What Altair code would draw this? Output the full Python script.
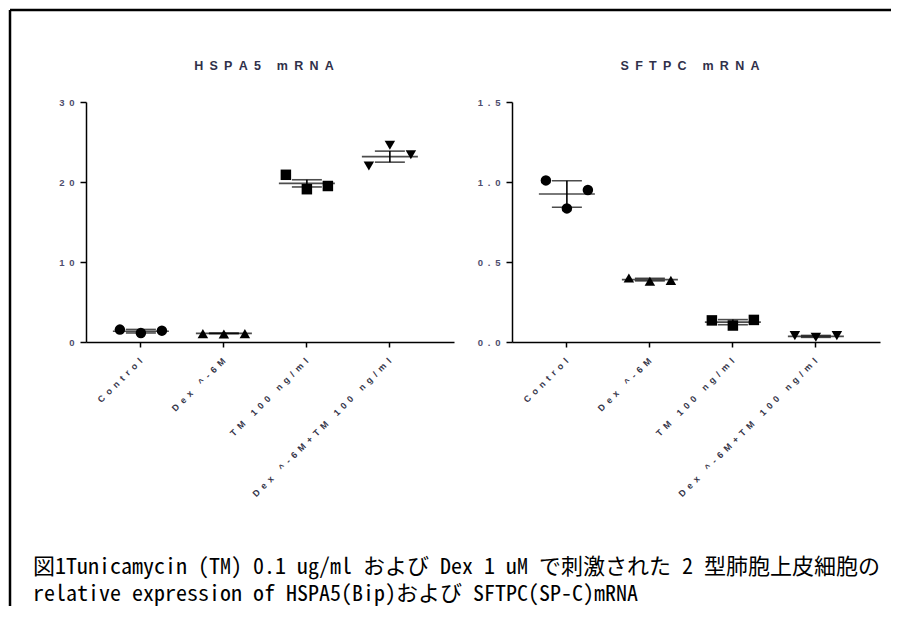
import altair as alt
import pandas as pd

CATEGORIES = ["Control", "Dex ^-6M", "TM 100 ng/ml", "Dex ^-6M+TM 100 ng/ml"]
SHAPES = ["circle", "triangle-up", "square", "triangle-down"]

HSPA5_REPS = [[1.55, 1.13, 1.42], [1.05, 1.0, 1.05], [20.9, 19.1, 19.5], [22.0, 24.6, 23.4]]
HSPA5_MEAN = [1.35, 1.08, 19.83, 23.17]
HSPA5_ERR = [0.22, 0.04, 0.45, 0.69]
HSPA5_TICKS = [0, 10, 20, 30]

SFTPC_REPS = [[1.01, 0.835, 0.95], [0.40, 0.38, 0.385], [0.135, 0.103, 0.138], [0.04, 0.03, 0.04]]
SFTPC_MEAN = [0.925, 0.39, 0.124, 0.035]
SFTPC_ERR = [0.083, 0.008, 0.016, 0.006]
SFTPC_TICKS = [0, 0.5, 1.0, 1.5]

TITLES = ["HSPA5 mRNA", "SFTPC mRNA"]
CAPTION_LINES = [
    "図1Tunicamycin (TM) 0.1 ug/ml および Dex 1 uM で刺激された 2 型肺胞上皮細胞の",
    "relative expression of HSPA5(Bip)および SFTPC(SP-C)mRNA",
]

EN = "\u2002"
SPACED = "join(split(datum.label, ''), '\u2002')"
LABEL_FONT = "Liberation Sans"
W, H = 368, 240


def spaced(s):
    return EN.join(list(s))


one = pd.DataFrame({"k": [0]})


def panel(title, reps, mean, err, ymax, ticks, fmt):
    rows = []
    for c, vals in zip(CATEGORIES, reps):
        for i, v in enumerate(vals):
            rows.append({"cat": c, "rep": i, "val": v})
    pts = pd.DataFrame(rows)
    summ = pd.DataFrame({
        "cat": CATEGORIES,
        "mean": mean,
        "lo": [m - e for m, e in zip(mean, err)],
        "hi": [m + e for m, e in zip(mean, err)],
    })
    xscale = alt.Scale(type="band", domain=CATEGORIES, paddingInner=0.494,
                       paddingOuter=0.464, align=0.44)
    xaxis = alt.Axis(title=None, labelAngle=-45, labelAlign="right", labelBaseline="middle",
                     labelPadding=12, tickSize=5, tickWidth=1.5, domainWidth=1.5,
                     domainColor="black", tickColor="black", labelExpr=SPACED,
                     labelFont=LABEL_FONT, labelFontSize=9, labelFontWeight="bold",
                     labelColor="#35354a", labelLimit=400)
    yscale = alt.Scale(domain=[0, ymax], nice=False)
    yaxis = alt.Axis(title=None, values=ticks, format=fmt, labelExpr=SPACED, grid=False,
                     tickSize=6, tickWidth=1.5, domainWidth=1.5, domainColor="black",
                     tickColor="black", labelFont=LABEL_FONT, labelFontSize=9.5,
                     labelFontWeight="bold", labelColor="#4d4d6e", labelPadding=6)
    x = alt.X("cat:N", sort=CATEGORIES, scale=xscale, axis=xaxis)

    points = alt.Chart(pts).mark_point(filled=True, size=110, color="black", opacity=1).encode(
        x=x,
        xOffset=alt.XOffset("rep:N", scale=alt.Scale(paddingInner=0, paddingOuter=0)),
        y=alt.Y("val:Q", scale=yscale, axis=yaxis),
        shape=alt.Shape("cat:N", scale=alt.Scale(domain=CATEGORIES, range=SHAPES), legend=None),
    )
    mean_line = alt.Chart(summ).mark_tick(size=56, thickness=1.6, color="black").encode(
        x=x, y=alt.Y("mean:Q", scale=yscale))
    cap_lo = alt.Chart(summ).mark_tick(size=30, thickness=1.6, color="black").encode(
        x=x, y=alt.Y("lo:Q", scale=yscale))
    cap_hi = alt.Chart(summ).mark_tick(size=30, thickness=1.6, color="black").encode(
        x=x, y=alt.Y("hi:Q", scale=yscale))
    vline = alt.Chart(summ).mark_rule(strokeWidth=1.6, color="black").encode(
        x=x, y=alt.Y("lo:Q", scale=yscale), y2="hi:Q")
    ttl = alt.Chart(one).mark_text(
        align="center", baseline="middle", fontSize=12.5, fontWeight="bold",
        font=LABEL_FONT, color="#30304a").encode(
        x=alt.value(W / 2 - 6), y=alt.value(-36), text=alt.value(spaced(title)))

    return [points, vline, mean_line, cap_lo, cap_hi, ttl]


left_layers = panel(TITLES[0], HSPA5_REPS, HSPA5_MEAN, HSPA5_ERR, 30, HSPA5_TICKS, "d")
right_layers = panel(TITLES[1], SFTPC_REPS, SFTPC_MEAN, SFTPC_ERR, 1.5, SFTPC_TICKS, ".1f")

frame_top = alt.Chart(one).mark_rule(color="black", strokeWidth=2.5).encode(
    x=alt.value(-76), x2=alt.value(805), y=alt.value(-92))
frame_left = alt.Chart(one).mark_rule(color="black", strokeWidth=2.5).encode(
    x=alt.value(-76), y=alt.value(-92), y2=alt.value(504))
caption = alt.Chart(one).mark_text(
    align="left", baseline="alphabetic", fontSize=22, lineHeight=27,
    font="Noto Sans Mono CJK JP, Noto Sans CJK JP", color="black").encode(
    x=alt.value(-53), y=alt.value(472), text=alt.value(CAPTION_LINES))

left = alt.layer(*left_layers, frame_top, frame_left, caption).properties(width=W, height=H)
right = alt.layer(*right_layers).properties(width=W, height=H)

chart = alt.hconcat(left, right, spacing=58, bounds="flush").properties(
    padding=0).configure_view(stroke=None)

chart.save("out.html", embed_options={"renderer": "svg", "actions": False})
